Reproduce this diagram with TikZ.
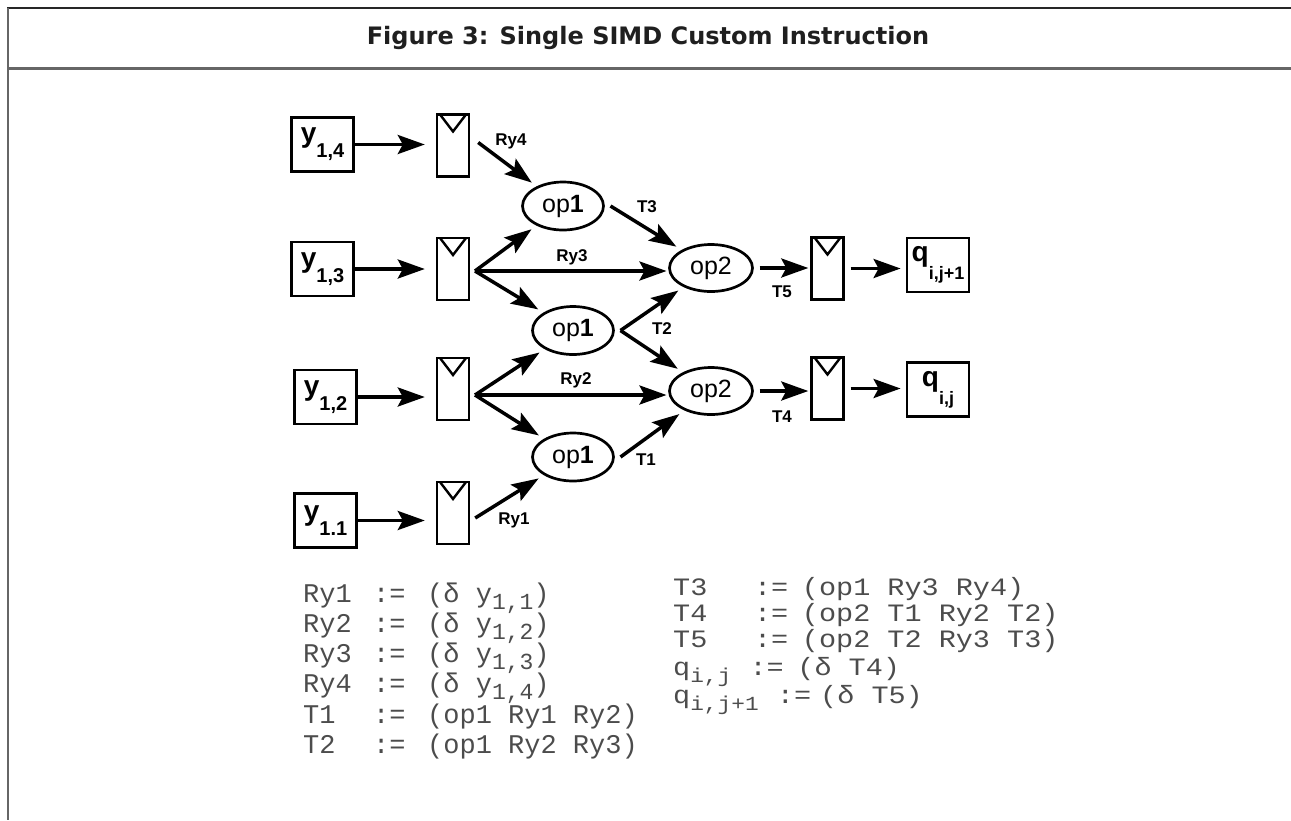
\documentclass[tikz,border=0pt]{standalone}
\usepackage{fontspec}
\setmainfont{Liberation Sans}
\newfontfamily\titlefont{DejaVu Sans}
\newfontfamily\codefont{Liberation Mono}
\usetikzlibrary{shapes.geometric,arrows.meta}
\newcommand\boxlab[2]{{\fontsize{28}{28}\selectfont\bfseries #1}\raisebox{-15pt}{\fontsize{20}{20}\selectfont\bfseries #2}}
\newcommand\qlab[2]{{\fontsize{28}{28}\selectfont\bfseries #1}\raisebox{-18pt}{\fontsize{18}{18}\selectfont\bfseries #2}}
\newcommand\dsub[1]{\raisebox{-7pt}{\fontsize{23}{23}\selectfont #1}}
\newcommand\dsubr[1]{\raisebox{-7pt}{\fontsize{20}{20}\selectfont #1}}
\tikzset{
 inbox/.style={draw, line width=2.8pt, minimum width=62pt, minimum height=54pt, inner sep=0pt},
 reg/.style={draw, line width=2.4pt, minimum width=32pt, minimum height=62pt, inner sep=0pt,
   path picture={\draw[line width=2.4pt] ([xshift=3pt]path picture bounding box.north west) -- ([yshift=-17pt]path picture bounding box.north) -- ([xshift=-3pt]path picture bounding box.north east);}},
 opnode/.style={draw, ellipse, line width=2.7pt, minimum width=81pt, minimum height=48pt, inner sep=0pt, outer sep=7pt, font=\fontsize{25}{25}\selectfont},
 arr/.style={line width=3.5pt, -{Stealth[length=27pt,width=19pt,inset=5pt]}},
 elab/.style={font=\bfseries\fontsize{17}{17}\selectfont, inner sep=0pt},
 defs/.style={font=\codefont\fontsize{27}{27}\selectfont, text=black!70, inner sep=0pt, anchor=base west},
 defsr/.style={font=\codefont\fontsize{25}{25}\selectfont, text=black!70, inner sep=0pt, anchor=base west},
}
\begin{document}
\begin{tikzpicture}[x=1pt,y=-1pt]
\useasboundingbox (0,0) rectangle (1291,820);
% frame
\draw[line width=2pt, black!85] (7,8) -- (1291,8);
\draw[line width=2pt, black!60] (7.5,8) -- (7.5,820);
\draw[line width=2.5pt, black!60] (7,68.5) -- (1291,68.5);
\node[text=black!88] (title) at (648,38) {\titlefont\bfseries\fontsize{24}{24}\selectfont Figure 3: Single SIMD Custom Instruction};

% input boxes
\node[inbox] (y4) at (322.5,144.5) {\boxlab{y}{1,4}};
\node[inbox] (y3) at (322.5,269) {\boxlab{y}{1,3}};
\node[inbox] (y2) at (325.5,397) {\boxlab{y}{1,2}};
\node[inbox] (y1) at (325.5,520.5) {\boxlab{y}{1.1}};
% input registers
\node[reg] (r4) at (453,145.5) {};
\node[reg] (r3) at (453,269) {};
\node[reg] (r2) at (453,389) {};
\node[reg] (r1) at (453,513) {};
% operators
\node[opnode] (op1a) at (563,206) {op\textbf{1}};
\node[opnode] (op1b) at (573,330.5) {op\textbf{1}};
\node[opnode] (op1c) at (573,457) {op\textbf{1}};
\node[opnode, minimum width=83pt, minimum height=47pt] (op2a) at (711,268) {op2};
\node[opnode, minimum width=83pt, minimum height=47pt] (op2b) at (711,391) {op2};
% output registers and boxes
\node[reg] (ra) at (827.5,268.5) {};
\node[reg] (rb) at (827.5,388.5) {};
\node[inbox] (qa) at (938,265) {\qlab{q}{i,j+1}};
\node[inbox] (qb) at (938,389.5) {\qlab{q}{i,j}};

% fork points
\coordinate (f3) at (475,271);
\coordinate (f2) at (475,395);

% box -> register
\draw[arr, shorten >=11pt] (y4) -- (y4 -| r4.west);
\draw[arr, shorten >=11pt] (y3) -- (y3 -| r3.west);
\draw[arr, shorten >=11pt] (y2) -- (y2 -| r2.west);
\draw[arr, shorten >=11pt] (y1) -- (y1 -| r1.west);

% registers -> op1
\draw[arr] ([xshift=8pt,yshift=3pt]r4.east) -- (op1a);
\draw[arr] (f3) -- (op1a);
\draw[arr, shorten >=-4pt] (f3) -- (f3 -| op2a.west);
\draw[arr] (f3) -- (op1b);
\draw[arr] (f2) -- (op1b);
\draw[arr, shorten >=-4pt] (f2) -- (f2 -| op2b.west);
\draw[arr] (f2) -- (op1c);
\draw[arr] ([xshift=5pt,yshift=-5pt]r1.east) -- (op1c);

% op1 -> op2
\draw[arr] (op1a.east) -- (op2a);
\draw[arr] (op1b.east) -- (op2a);
\draw[arr] (op1b.east) -- (op2b);
\draw[arr] (op1c.east) -- (op2b);

% op2 -> output
\draw[arr, shorten >=2pt] (op2a.east) -- (op2a.east -| ra.west);
\draw[arr, shorten >=2pt] (op2b.east) -- (op2b.east -| rb.west);
\draw[arr, shorten <=6pt, shorten >=5pt] (ra.east) -- (ra.east -| qa.west);
\draw[arr, shorten <=6pt, shorten >=5pt] (rb.east) -- (rb.east -| qb.west);

% edge labels
\node[elab] (lRy4) at (511,141) {Ry4};
\node[elab] (lRy3) at (572,257) {Ry3};
\node[elab] (lRy2) at (576,380) {Ry2};
\node[elab] (lRy1) at (514,520) {Ry1};
\node[elab] (lT3) at (647,207) {T3};
\node[elab] (lT2) at (662,329) {T2};
\node[elab] (lT1) at (646,460) {T1};
\node[elab] (lT5) at (782,292) {T5};
\node[elab] (lT4) at (782,417) {T4};

% definitions, left column
\node[defs] (d1) at (303,602) {\makebox[70pt][l]{Ry1}\makebox[54pt][l]{:=}(δ y\dsub{1,1})};
\node[defs] (d2) at (303,632) {\makebox[70pt][l]{Ry2}\makebox[54pt][l]{:=}(δ y\dsub{1,2})};
\node[defs] (d3) at (303,662) {\makebox[70pt][l]{Ry3}\makebox[54pt][l]{:=}(δ y\dsub{1,3})};
\node[defs] (d4) at (303,692) {\makebox[70pt][l]{Ry4}\makebox[54pt][l]{:=}(δ y\dsub{1,4})};
\node[defs] (d5) at (303,723) {\makebox[70pt][l]{T1}\makebox[54pt][l]{:=}(op1 Ry1 Ry2)};
\node[defs] (d6) at (303,753) {\makebox[70pt][l]{T2}\makebox[54pt][l]{:=}(op1 Ry2 Ry3)};
% definitions, right column (slightly widened letters)
\node[defsr] (e1) at (673,595) {\scalebox{1.14}[1]{\makebox[71pt][l]{T3}\makebox[42pt][l]{:=}(op1 Ry3 Ry4)}};
\node[defsr] (e2) at (673,621) {\scalebox{1.14}[1]{\makebox[71pt][l]{T4}\makebox[42pt][l]{:=}(op2 T1 Ry2 T2)}};
\node[defsr] (e3) at (673,647) {\scalebox{1.14}[1]{\makebox[71pt][l]{T5}\makebox[42pt][l]{:=}(op2 T2 Ry3 T3)}};
\node[defsr] (e4) at (673,675) {\scalebox{1.14}[1]{\makebox[67pt][l]{q\dsubr{i,j}}\makebox[42pt][l]{:=}(δ T4)}};
\node[defsr] (e5) at (673,703) {\scalebox{1.14}[1]{\makebox[91pt][l]{q\dsubr{i,j+1}}\makebox[38pt][l]{:=}(δ T5)}};
\end{tikzpicture}
\end{document}
